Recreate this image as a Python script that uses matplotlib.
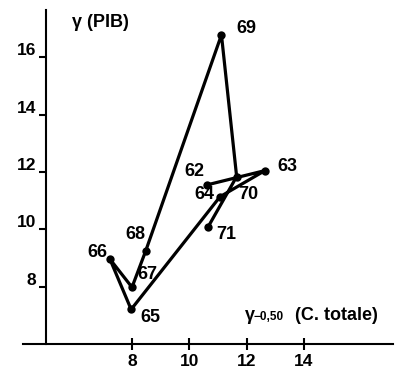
#!/usr/bin/env python3
"""
Croissance du PIB vs croissance de la consommation totale (1962-1971)
"""

import matplotlib
matplotlib.use('Agg')
import matplotlib.pyplot as plt

# Données
annees = ['62', '63', '64', '65', '66', '67', '68', '69', '70', '71']
conso = [10.61, 12.64, 11.07, 7.97, 7.23, 8.00, 8.48, 11.12, 11.65, 10.66]
pib = [11.55, 12.05, 11.14, 7.22, 8.97, 7.99, 9.26, 16.77, 11.84, 10.10]

# Décalage des étiquettes (pixels)
decalages = {
    '62': (-12, 13), '63': (22, 4), '64': (-16, 2), '65': (19, -8),
    '66': (-13, 7), '67': (15, 13), '68': (-10, 16), '69': (25, 6),
    '70': (12, -18), '71': (18, -8),
}

xticks = [8, 10, 12, 14]
yticks = [8, 10, 12, 14, 16]

plt.rcParams['font.family'] = ['Liberation Sans', 'DejaVu Sans']
plt.rcParams['font.weight'] = 'bold'

fig = plt.figure(figsize=(3.97, 3.72), dpi=100)
ax = fig.add_axes([0, 0, 1, 1])
ax.set_xlim(3.396, 17.243)
ax.set_ylim(5.043, 17.983)

# Axes croisés en (5, 6)
for side in ['top', 'right']:
    ax.spines[side].set_visible(False)
ax.spines['left'].set_position(('data', 5))
ax.spines['bottom'].set_position(('data', 6))
ax.spines['left'].set_bounds(6, 17.63)
ax.spines['bottom'].set_bounds(4.2, 17.1)
for side in ['left', 'bottom']:
    ax.spines[side].set_linewidth(1.5)
    ax.spines[side].set_color('black')

ax.set_xticks(xticks)
ax.set_yticks(yticks)
ax.tick_params(axis='y', direction='out', length=5, width=1.5, labelleft=False)
ax.tick_params(axis='x', direction='inout', length=8.5, width=1.5, labelbottom=False)

for v in yticks:
    ax.annotate(str(v), xy=(5, v), xytext=(-10, 2), textcoords='offset pixels',
                ha='right', va='baseline', fontsize=12.5, fontweight='bold')
for v in xticks:
    ax.annotate(str(v), xy=(v, 6), xytext=(0, -10), textcoords='offset pixels',
                ha='center', va='top', fontsize=12.5, fontweight='bold')

# Trajectoire
ax.plot(conso, pib, color='black', linewidth=2.3, marker='o',
        markersize=6, markeredgewidth=0, solid_joinstyle='round')

for a, x, y in zip(annees, conso, pib):
    dx, dy = decalages[a]
    ax.annotate(a, xy=(x, y), xytext=(dx, dy), textcoords='offset pixels',
                ha='center', va='center', fontsize=13, fontweight='bold')

# Titres des axes
ax.text(72 / 397, 1 - 27 / 372, 'γ (PIB)', transform=ax.transAxes,
        ha='left', va='baseline', fontsize=13, fontweight='bold')
ax.text(245 / 397, 1 - 320 / 372, 'γ', transform=ax.transAxes,
        ha='left', va='baseline', fontsize=13, fontweight='bold')
ax.text(254 / 397, 1 - 320 / 372, '−0,50', transform=ax.transAxes,
        ha='left', va='baseline', fontsize=8.5, fontweight='bold')
ax.text(295 / 397, 1 - 320 / 372, '(C. totale)', transform=ax.transAxes,
        ha='left', va='baseline', fontsize=13, fontweight='bold')

fig.savefig('out.png', dpi=100)
